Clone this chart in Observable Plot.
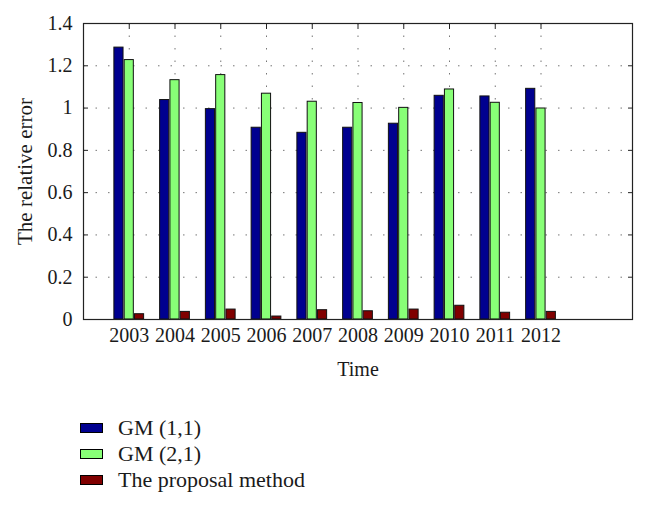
<!DOCTYPE html>
<html>
<head>
<meta charset="utf-8">
<script src="https://cdn.jsdelivr.net/npm/d3@7"></script>
<script src="https://cdn.jsdelivr.net/npm/@observablehq/plot@0.6"></script>
<style>
  body { margin: 0; background: #fff; font-family: "Liberation Serif", "DejaVu Serif", serif; }
  #chart { position: absolute; left: 0; top: 0; }
  #legend { position: absolute; left: 80px; top: 415px; font-size: 22px; color: #1a1a1a; }
  .item { display: flex; align-items: center; height: 26px; }
  .sw { width: 21px; height: 8px; border: 1px solid #000; margin-right: 15px; }
  #chart svg g[aria-label="y-axis label"] text { font-size: 21px; }
</style>
</head>
<body>
<div id="chart"></div>
<div id="legend"></div>
<script>
const years = [2003, 2004, 2005, 2006, 2007, 2008, 2009, 2010, 2011, 2012];
const gm11 = [1.286, 1.038, 0.995, 0.907, 0.883, 0.907, 0.926, 1.058, 1.055, 1.091];
const gm21 = [1.227, 1.132, 1.156, 1.068, 1.030, 1.024, 1.001, 1.088, 1.025, 0.998];
const proposal = [0.025, 0.036, 0.047, 0.014, 0.044, 0.039, 0.047, 0.065, 0.032, 0.036];
const seriesNames = ["GM (1,1)", "GM (2,1)", "The proposal method"];
const seriesColors = ["#00008f", "#88ff77", "#800000"];
const yTicks = [0, 0.2, 0.4, 0.6, 0.8, 1, 1.2, 1.4];
const xDomain = [2002, 2014];

const series = [gm11, gm21, proposal];
const offsets = [-0.225, 0, 0.225];
const halfW = 0.1;
const table = years.flatMap((yr, i) => series.map((arr, s) => ({ year: yr, s, value: arr[i] })));

const gridStyle = { stroke: "#666", strokeOpacity: 0.9, strokeDasharray: "1.5,11" };

const chart = Plot.plot({
  width: 646,
  height: 395,
  marginLeft: 83,
  marginRight: 14,
  marginTop: 23,
  marginBottom: 76,
  style: { fontSize: "20px", fontFamily: "'Liberation Serif', serif", color: "#1a1a1a", background: "#fff" },
  x: { domain: xDomain },
  y: { domain: [0, 1.4] },
  marks: [
    Plot.gridY(yTicks.filter(v => v > 0 && v < 1.4), gridStyle),
    Plot.gridX(years, gridStyle),
    Plot.rect(table, {
      x1: d => d.year + offsets[d.s] - halfW,
      x2: d => d.year + offsets[d.s] + halfW,
      y1: 0,
      y2: "value",
      fill: d => seriesColors[d.s],
      stroke: "#111",
      strokeWidth: 1
    }),
    Plot.frame({ stroke: "#222", strokeWidth: 1.2 }),
    Plot.axisX(years, { anchor: "bottom", tickSize: 0, tickPadding: 8, tickFormat: d => String(d),
      label: "Time", labelAnchor: "center", labelArrow: "none", labelOffset: 56 }),
    Plot.axisX(years, { anchor: "top", tickSize: -5, tickFormat: () => "", label: null, stroke: "#222" }),
    Plot.axisY(yTicks, { anchor: "left", tickSize: 0, tickPadding: 11, tickFormat: d => String(d),
      label: "The relative error", labelAnchor: "center", labelArrow: "none", labelOffset: 66, ariaLabel: "y-axis" }),
    Plot.axisY(yTicks, { anchor: "left", tickSize: -5, tickFormat: () => "", label: null, stroke: "#222" }),
    Plot.axisY(yTicks, { anchor: "right", tickSize: -5, tickFormat: () => "", label: null, stroke: "#222" })
  ]
});
document.getElementById("chart").appendChild(chart);

const legend = document.getElementById("legend");
seriesNames.forEach((name, i) => {
  const item = document.createElement("div");
  item.className = "item";
  const sw = document.createElement("div");
  sw.className = "sw";
  sw.style.background = seriesColors[i];
  const label = document.createElement("span");
  label.textContent = name;
  item.appendChild(sw);
  item.appendChild(label);
  legend.appendChild(item);
});
</script>
</body>
</html>
